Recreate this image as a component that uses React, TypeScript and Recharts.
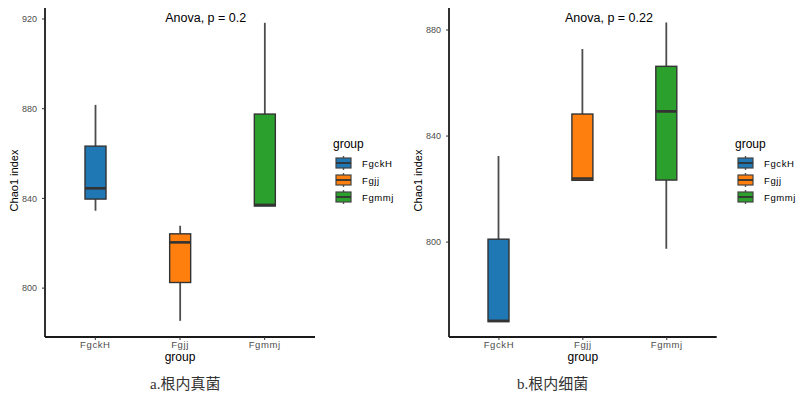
import React from "react";
import { ComposedChart, Bar, XAxis, YAxis, Cell, Label } from "recharts";

const groups = ["FgckH", "Fgjj", "Fgmmj"];
const colors = ["#1f77b4", "#ff7f0e", "#2ca02c"];

// a. 根内真菌
const fungiMin = [834.5, 785.4, 836.6];
const fungiQ1 = [839.7, 802.5, 836.6];
const fungiMedian = [844.5, 820.4, 837.1];
const fungiQ3 = [863.3, 824.2, 877.6];
const fungiMax = [881.7, 827.8, 918.3];
const fungiTicks = [800, 840, 880, 920];

// b. 根内细菌
const bactMin = [770.0, 823.3, 797.5];
const bactQ1 = [770.0, 823.3, 823.4];
const bactMedian = [770.3, 824.0, 849.3];
const bactQ3 = [801.1, 848.3, 866.3];
const bactMax = [832.5, 872.8, 882.8];
const bactTicks = [800, 840, 880];

const buildRows = (mins: number[], q1s: number[], meds: number[], q3s: number[], maxs: number[]) =>
  groups.map((g, i) => ({
    group: g,
    min: mins[i],
    q1: q1s[i],
    median: meds[i],
    q3: q3s[i],
    max: maxs[i],
    range: [mins[i], maxs[i]],
    color: colors[i],
  }));

const fungiRows = buildRows(fungiMin, fungiQ1, fungiMedian, fungiQ3, fungiMax);
const bactRows = buildRows(bactMin, bactQ1, bactMedian, bactQ3, bactMax);

const BoxShape = (props: any) => {
  const { x, y, width, height, payload } = props;
  const { min, q1, median, q3, max, color } = payload;
  const top = Math.min(y, y + height);
  const bottom = Math.max(y, y + height);
  const span = max - min;
  const py = (v: number) => (span === 0 ? top : top + ((max - v) / span) * (bottom - top));
  const cx = x + width / 2;
  return (
    <g>
      <line x1={cx} x2={cx} y1={py(max)} y2={py(q3)} stroke="#4d4d4d" strokeWidth={1.8} />
      <line x1={cx} x2={cx} y1={py(q1)} y2={py(min)} stroke="#4d4d4d" strokeWidth={1.8} />
      <rect
        x={x}
        y={py(q3)}
        width={width}
        height={Math.max(py(q1) - py(q3), 1)}
        fill={color}
        stroke="#333"
        strokeWidth={1.4}
      />
      <line x1={x} x2={x + width} y1={py(median)} y2={py(median)} stroke="#333" strokeWidth={2.6} />
    </g>
  );
};

const tickStyle = { fontSize: 9.5, fill: "#4d4d4d", fontFamily: "Liberation Sans, Arial, sans-serif" };

const BoxChart = (props: any) => {
  const { rows, domain, ticks, anova, anovaX, marginLeft, width, marginRight } = props;
  return (
    <ComposedChart
      width={width}
      height={370}
      data={rows}
      margin={{ top: 8, right: marginRight, left: marginLeft, bottom: 0 }}
      style={{ fontFamily: "Liberation Sans, Arial, sans-serif" }}
    >
      <XAxis
        dataKey="group"
        height={33}
        padding={{ left: 8, right: 8 }}
        tickSize={3}
        tickMargin={1}
        tick={{ ...tickStyle, letterSpacing: 0.6 }}
        axisLine={{ stroke: "#1a1a1a", strokeWidth: 1.8 }}
        tickLine={{ stroke: "#333" }}
      >
        <Label
          content={(p: any) => (
            <text
              x={p.viewBox.x + p.viewBox.width / 2}
              y={p.viewBox.y + 24}
              textAnchor="middle"
              fontSize={12}
              fill="#000"
            >
              group
            </text>
          )}
        />
      </XAxis>
      <YAxis
        type="number"
        domain={domain}
        ticks={ticks}
        width={30}
        tickSize={3}
        tickMargin={5}
        tick={{ ...tickStyle, fontSize: 9 }}
        axisLine={{ stroke: "#1a1a1a", strokeWidth: 1.8 }}
        tickLine={{ stroke: "#333" }}
        allowDataOverflow
      >
        <Label
          content={(p: any) => {
            const lx = p.viewBox.x - 1;
            const ly = p.viewBox.y + p.viewBox.height / 2 + 8;
            return (
              <text
                x={lx}
                y={ly}
                transform={`rotate(-90 ${lx} ${ly})`}
                textAnchor="middle"
                dominantBaseline="central"
                fontSize={11}
                fill="#000"
              >
                Chao1 index
              </text>
            );
          }}
        />
      </YAxis>
      <Bar dataKey="range" barSize={21} shape={BoxShape} isAnimationActive={false}>
        {rows.map((r: any) => (
          <Cell key={r.group} fill={r.color} />
        ))}
      </Bar>
      <text x={anovaX} y={22} textAnchor="middle" fontSize={12.5} fill="#000">
        {anova}
      </text>
    </ComposedChart>
  );
};

const GroupLegend = (props: any) => {
  const { left } = props;
  return (
    <svg
      width={90}
      height={80}
      style={{ position: "absolute", left, top: 135, fontFamily: "Liberation Sans, Arial, sans-serif" }}
    >
      <text x={0} y={13} fontSize={12} fill="#000">
        group
      </text>
      {groups.map((g, i) => {
        const cy = 28 + i * 17;
        return (
          <g key={g}>
            <line x1={10.5} x2={10.5} y1={cy - 7} y2={cy + 7} stroke="#555" strokeWidth={1.4} />
            <rect x={3} y={cy - 5} width={15} height={10} fill={colors[i]} stroke="#444" strokeWidth={1.2} />
            <line x1={3} x2={18} y1={cy} y2={cy} stroke="#333" strokeWidth={1.8} />
            <text x={29} y={cy + 3.5} fontSize={9.5} letterSpacing={0.6} fill="#000">
              {g}
            </text>
          </g>
        );
      })}
    </svg>
  );
};

const captionStyle: React.CSSProperties = {
  position: "absolute",
  top: 372,
  fontSize: 15,
  fontFamily: "Liberation Serif, Noto Sans CJK SC, serif",
  color: "#333",
  whiteSpace: "nowrap",
};

export default function App() {
  return (
    <div style={{ position: "absolute", left: 0, top: 0, width: 803, height: 397, background: "#fff" }}>
      <div style={{ position: "absolute", left: 0, top: 0 }}>
        <BoxChart
          rows={fungiRows}
          domain={[778.2, 924.9]}
          ticks={fungiTicks}
          anova="Anova, p = 0.2"
          anovaX={205.7}
          marginLeft={15}
          marginRight={85}
          width={400}
        />
      </div>
      <div style={{ position: "absolute", left: 400, top: 0 }}>
        <BoxChart
          rows={bactRows}
          domain={[764.2, 888.3]}
          ticks={bactTicks}
          anova="Anova, p = 0.22"
          anovaX={209}
          marginLeft={19}
          marginRight={86.3}
          width={403}
        />
      </div>
      <GroupLegend left={333} />
      <GroupLegend left={735} />
      <div style={{ ...captionStyle, left: 150 }}>a.根内真菌</div>
      <div style={{ ...captionStyle, left: 517 }}>b.根内细菌</div>
    </div>
  );
}
